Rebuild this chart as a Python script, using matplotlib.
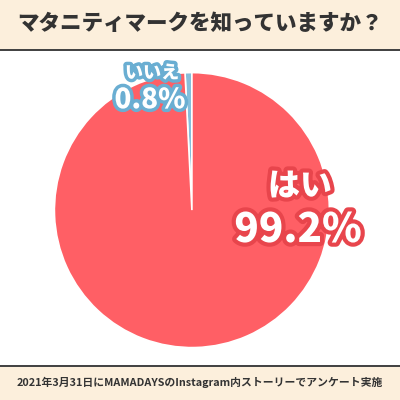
import matplotlib
matplotlib.use("Agg")
import matplotlib.pyplot as plt
import matplotlib.patheffects as pe
from matplotlib.patches import Rectangle

plt.rcParams['font.family'] = ['Noto Sans CJK JP', 'DejaVu Sans']

labels = ["いいえ", "はい"]
values = [0.8, 99.2]
colors = ["#86bedb", "#ff5f65"]
title = "マタニティマークを知っていますか？"
note = "2021年3月31日にMAMADAYSのInstagram内ストーリーでアンケート実施"

fig = plt.figure(figsize=(4, 4), dpi=100)
fig.patch.set_facecolor("white")

# header / footer bands
fig.patches.append(Rectangle((0, 0.875), 1, 0.125, transform=fig.transFigure,
                             facecolor="#fcefdc", edgecolor="none"))
fig.patches.append(Rectangle((0, 0.873), 1, 0.005, transform=fig.transFigure,
                             facecolor="#444444", edgecolor="none"))
fig.patches.append(Rectangle((0, 0), 1, 0.085, transform=fig.transFigure,
                             facecolor="#fcefdc", edgecolor="none"))
fig.patches.append(Rectangle((0, 0.083), 1, 0.005, transform=fig.transFigure,
                             facecolor="#444444", edgecolor="none"))
fig.text(0.5, 0.94, "  ".join(title) if False else title, ha="center", va="center",
         fontsize=15.5, fontweight="black", color="#333333")
fig.text(0.5, 0.043, note, ha="center", va="center", fontsize=7.8,
         fontweight="bold", color="#333333")

ax = fig.add_axes([0.136, 0.131, 0.6875, 0.6875])
ax.pie(values, colors=colors, startangle=90, counterclock=True,
       wedgeprops=dict(edgecolor="white", linewidth=1.2))
ax.set_xlim(-1, 1)
ax.set_ylim(-1, 1)
ax.set_aspect("equal")

stroke_b = [pe.withStroke(linewidth=5, foreground="#6aaed2")]
stroke_r = [pe.withStroke(linewidth=6, foreground="#e8454c")]
fig.text(0.38, 0.818, labels[0], ha="center", va="center", fontsize=13,
         fontweight="black", color="white", path_effects=stroke_b)
fig.text(0.375, 0.75, f"{values[0]}%", ha="center", va="center", fontsize=20,
         fontweight="black", color="white", path_effects=stroke_b)
fig.text(0.75, 0.535, labels[1], ha="center", va="center", fontsize=23,
         fontweight="black", color="white", path_effects=stroke_r)
fig.text(0.745, 0.425, f"{values[1]}%", ha="center", va="center", fontsize=29,
         fontweight="black", color="white", path_effects=stroke_r)

fig.savefig("out.png", dpi=100)
